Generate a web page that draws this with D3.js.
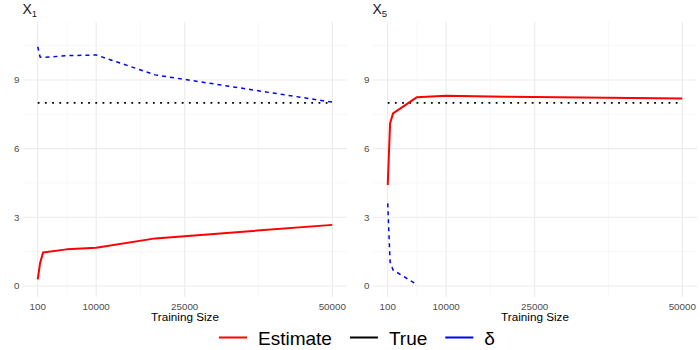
<!DOCTYPE html>
<html>
<head>
<meta charset="utf-8">
<script src="https://cdn.jsdelivr.net/npm/d3@7"></script>
<style>
  body { margin: 0; background: #fff; }
  svg { display: block; font-family: "Liberation Sans", Arial, sans-serif; }
</style>
</head>
<body>
<svg id="chart" width="700" height="350"></svg>
<script>
// training sizes (x)
var sizes = [100, 500, 1000, 5000, 10000, 20000, 50000];

// X1 facet
var x1Estimate = [0.29, 1.0, 1.46, 1.60, 1.67, 2.08, 2.67];
var x1Delta = [10.45, 10.0, 9.98, 10.06, 10.09, 9.22, 8.03];
// X5 facet
var x5Estimate = [4.41, 7.11, 7.54, 8.24, 8.31, 8.27, 8.19];
var x5Delta = [3.61, 1.06, 0.70, 0.07];   // only first 4 sizes
var trueValue = 8;

var xTicks = [100, 10000, 25000, 50000];
var xMinor = [5050, 17500, 37500];
var yTicks = [0, 3, 6, 9];
var yMinor = [1.5, 4.5, 7.5, 10.5];

var panels = [
  { name: "X", sub: "1", est: x1Estimate, delta: x1Delta, left: 23 },
  { name: "X", sub: "5", est: x5Estimate, delta: x5Delta, left: 373 }
];

var svg = d3.select("#chart");
var panelW = 324, panelTop = 22, panelBottom = 297;

var y = d3.scaleLinear().domain([-0.48, 11.53]).range([panelBottom, panelTop]);

panels.forEach(function(p) {
  var x = d3.scaleLinear().domain([-2395, 52495]).range([p.left, p.left + panelW]);
  var g = svg.append("g");

  // grid
  g.selectAll(".ymin").data(yMinor).enter().append("line")
    .attr("x1", p.left).attr("x2", p.left + panelW)
    .attr("y1", function(d) { return y(d); }).attr("y2", function(d) { return y(d); })
    .attr("stroke", "#f2f2f2").attr("stroke-width", 0.6);
  g.selectAll(".xmin").data(xMinor).enter().append("line")
    .attr("y1", panelTop).attr("y2", panelBottom)
    .attr("x1", function(d) { return x(d); }).attr("x2", function(d) { return x(d); })
    .attr("stroke", "#f2f2f2").attr("stroke-width", 0.6);
  g.selectAll(".ymaj").data(yTicks).enter().append("line")
    .attr("x1", p.left).attr("x2", p.left + panelW)
    .attr("y1", function(d) { return y(d); }).attr("y2", function(d) { return y(d); })
    .attr("stroke", "#ebebeb").attr("stroke-width", 1.1);
  g.selectAll(".xmaj").data(xTicks).enter().append("line")
    .attr("y1", panelTop).attr("y2", panelBottom)
    .attr("x1", function(d) { return x(d); }).attr("x2", function(d) { return x(d); })
    .attr("stroke", "#ebebeb").attr("stroke-width", 1.1);

  // tick labels
  g.selectAll(".yl").data(yTicks).enter().append("text")
    .attr("x", p.left - 3.5).attr("y", function(d) { return y(d); })
    .attr("dy", "0.35em").attr("text-anchor", "end")
    .attr("font-size", 9.8).attr("fill", "#4d4d4d")
    .text(function(d) { return d; });
  g.selectAll(".xl").data(xTicks).enter().append("text")
    .attr("x", function(d) { return x(d); }).attr("y", 309.5)
    .attr("text-anchor", "middle")
    .attr("font-size", 9.8).attr("fill", "#4d4d4d")
    .text(function(d) { return d; });

  g.append("text").attr("x", p.left + panelW / 2).attr("y", 321)
    .attr("text-anchor", "middle").attr("font-size", 11.7).attr("fill", "#000")
    .text("Training Size");

  // strip title
  var t = g.append("text").attr("x", p.left - 0.5).attr("y", 13.5)
    .attr("font-size", 14).attr("fill", "#1a1a1a");
  t.append("tspan").text(p.name);
  t.append("tspan").attr("font-size", 9.5).attr("dy", 3).text(p.sub);

  var line = d3.line()
    .x(function(d) { return x(d[0]); })
    .y(function(d) { return y(d[1]); });

  // true
  g.append("path")
    .datum(sizes.map(function(s) { return [s, trueValue]; }))
    .attr("d", line).attr("fill", "none")
    .attr("stroke", "#000").attr("stroke-width", 1.8)
    .attr("stroke-dasharray", "1.8,5.4");

  // estimate
  g.append("path")
    .datum(sizes.map(function(s, i) { return [s, p.est[i]]; }))
    .attr("d", line).attr("fill", "none")
    .attr("stroke", "#ff0000").attr("stroke-width", 2)
    .attr("stroke-linejoin", "round");

  // delta
  g.append("path")
    .datum(p.delta.map(function(v, i) { return [sizes[i], v]; }))
    .attr("d", line).attr("fill", "none")
    .attr("stroke", "#0000ff").attr("stroke-width", 1.5)
    .attr("stroke-dasharray", "4,4");
});

// legend
var legendItems = [
  { label: "Estimate", color: "#ff0000" },
  { label: "True", color: "#000000" },
  { label: "\u03b4", color: "#0000ff" }
];
var lx = 219, ly = 337.5;
legendItems.forEach(function(item) {
  svg.append("line").attr("x1", lx).attr("x2", lx + 28)
    .attr("y1", ly).attr("y2", ly)
    .attr("stroke", item.color).attr("stroke-width", 2);
  var txt = svg.append("text").attr("x", lx + 39).attr("y", ly + 7.3)
    .attr("font-size", 19).attr("fill", "#000").text(item.label);
  lx = lx + 39 + txt.node().getComputedTextLength() + 18;
});
</script>
</body>
</html>
